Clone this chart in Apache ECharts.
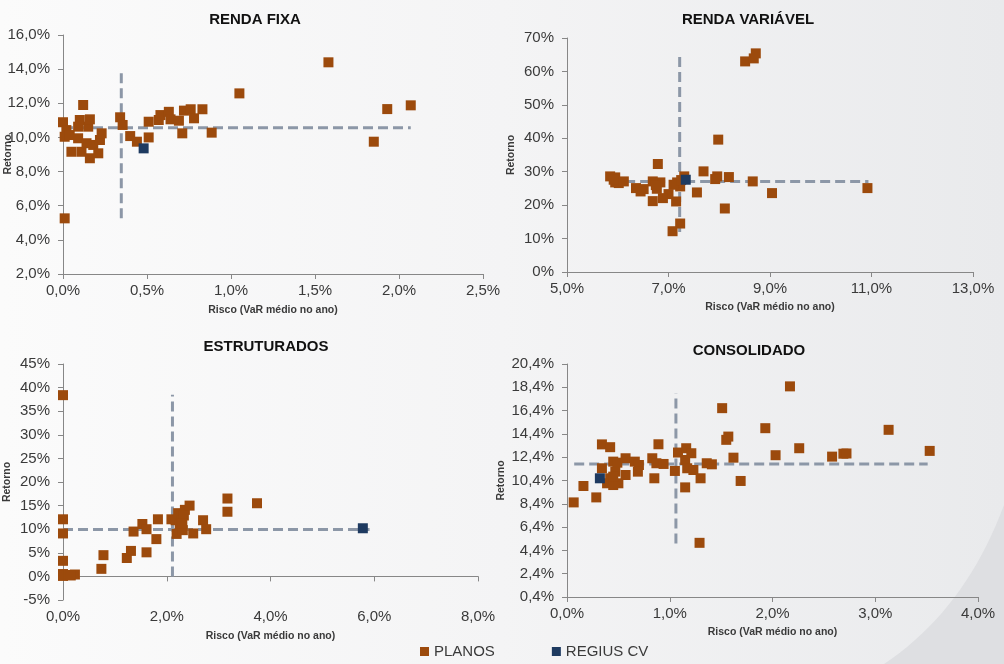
<!DOCTYPE html>
<html>
<head>
<meta charset="utf-8">
<script src="https://cdn.jsdelivr.net/npm/echarts@6/dist/echarts.min.js"></script>
<style>
html,body{margin:0;padding:0;background:#f5f5f6;}
#c{width:1004px;height:664px;}
</style>
</head>
<body>
<div id="c"></div>
<script>
// ---------- DATA ----------
const panelTitles = ['RENDA FIXA', 'RENDA VARIÁVEL', 'ESTRUTURADOS', 'CONSOLIDADO'];
const seriesNames = ['PLANOS', 'REGIUS CV'];
const xAxisTitle = 'Risco (VaR médio no ano)';
const yAxisTitle = 'Retorno';

// RENDA FIXA  [risco %, retorno %]
const rfPlanos = [[0.00,10.89],[0.02,10.43],[0.01,10.04],[0.04,10.14],[0.05,9.16],[0.09,10.63],[0.10,11.02],[0.09,9.95],[0.11,9.16],[0.12,11.90],[0.14,9.66],[0.15,10.63],[0.16,11.06],[0.16,8.78],[0.18,9.56],[0.21,9.07],[0.22,9.85],[0.23,10.24],[0.34,11.18],[0.355,10.73],[0.40,10.08],[0.44,9.75],[0.51,10.92],[0.51,10.00],[0.57,11.02],[0.58,11.31],[0.63,11.50],[0.64,11.06],[0.69,10.98],[0.71,10.24],[0.72,11.57],[0.76,11.65],[0.78,11.12],[0.83,11.65],[0.885,10.28],[1.05,12.58],[1.58,14.40],[1.85,9.75],[1.93,11.66],[2.07,11.88],[0.01,5.26]];
const rfRegius = [[0.48,9.36]];
const rfAvgH = [[0,10.57],[2.07,10.57]];
const rfAvgV = [[0.347,5.26],[0.347,14.05]];
const rfXTicks = [0,0.5,1,1.5,2,2.5];
const rfYTicks = [2,4,6,8,10,12,14,16];

// RENDA VARIÁVEL
const rvPlanos = [[8.51,63.0],[8.68,63.9],[8.72,65.4],[7.98,39.6],[6.79,32.3],[7.69,30.1],[7.96,28.6],[7.92,27.8],[8.19,28.4],[8.66,27.1],[9.04,23.6],[10.92,25.1],[8.11,19.0],[7.56,23.8],[7.31,28.6],[7.23,25.6],[7.17,26.8],[7.10,26.1],[7.15,21.1],[7.08,12.2],[7.23,14.5],[7.00,23.3],[6.89,22.1],[6.77,24.9],[6.84,26.8],[6.69,27.1],[6.69,21.2],[6.51,24.8],[6.45,24.1],[6.36,25.1],[5.85,28.6],[5.95,28.3],[5.95,26.8],[6.02,26.6],[6.12,27.1],[5.92,27.6],[6.75,26.0],[7.25,27.5]];
const rvRegius = [[7.34,27.6]];
const rvAvgH = [[5.85,27.1],[10.94,27.1]];
const rvAvgV = [[7.22,12.0],[7.22,65.7]];
const rvXTicks = [5,7,9,11,13];
const rvYTicks = [0,10,20,30,40,50,60,70];

// ESTRUTURADOS
const esPlanos = [[0,38.4],[0,12.1],[0,9.1],[0,3.3],[0,0.5],[0,0.1],[0.1,0.3],[0.23,0.4],[0.15,0.2],[0.74,1.6],[0.78,4.5],[1.23,3.9],[1.31,5.4],[1.36,9.5],[1.53,11.1],[1.61,10.0],[1.61,5.1],[1.80,7.9],[1.83,12.1],[2.09,12.1],[2.17,11.9],[2.19,9.0],[2.22,13.4],[2.25,10.9],[2.28,11.9],[2.31,9.8],[2.35,14.1],[2.44,15.0],[2.51,9.1],[2.70,11.9],[2.76,10.0],[3.17,16.5],[3.17,13.7],[3.74,15.5],[2.33,12.9],[2.30,11.2]];
const esRegius = [[5.78,10.2]];
const esAvgH = [[0,9.92],[5.91,9.92]];
const esAvgV = [[2.11,0],[2.11,38.5]];
const esXTicks = [0,2,4,6,8];
const esYTicks = [-5,0,5,10,15,20,25,30,35,40,45];

// CONSOLIDADO
const coPlanos = [[0.065,8.52],[0.16,9.93],[0.285,8.95],[0.34,11.45],[0.34,13.5],[0.42,13.26],[0.45,12.02],[0.42,10.59],[0.39,10.16],[0.45,10.01],[0.50,10.16],[0.47,11.16],[0.45,10.73],[0.49,11.93],[0.57,12.31],[0.57,10.87],[0.66,12.02],[0.70,11.73],[0.69,11.16],[0.83,12.31],[0.85,10.59],[0.89,13.51],[0.87,11.88],[0.94,11.82],[1.05,11.22],[1.08,12.8],[1.16,13.17],[1.21,12.74],[1.15,12.16],[1.17,11.45],[1.23,11.30],[1.30,10.59],[1.15,9.81],[1.29,5.05],[1.36,11.88],[1.41,11.79],[1.51,16.61],[1.55,13.89],[1.57,14.17],[1.62,12.36],[1.69,10.36],[1.93,14.89],[2.03,12.57],[2.17,18.48],[2.26,13.17],[2.58,12.45],[2.69,12.7],[2.72,12.72],[3.13,14.75],[3.53,12.94]];
const coRegius = [[0.32,10.59]];
const coAvgH = [[0.07,11.82],[3.51,11.82]];
const coAvgV = [[1.06,5.0],[1.06,17.9]];
const coXTicks = [0,1,2,3,4];
const coYTicks = [0.4,2.4,4.4,6.4,8.4,10.4,12.4,14.4,16.4,18.4,20.4];

// ---------- STYLE ----------
const ORANGE = '#9c4a0c';
const NAVY = '#1e3a60';
const DASH = '#8c97a7';
const AXIS = '#878787';
const TXT = '#3a3a3a';
const FONT = '"Liberation Sans", Arial, sans-serif';

const f1 = v => v.toFixed(1).replace('.', ',') + '%';
const f0 = v => Math.round(v) + '%';

const grids = [
  {left: 63, top: 35, width: 420, height: 239},
  {left: 567, top: 38, width: 406, height: 234},
  {left: 63, top: 364, width: 415, height: 236},
  {left: 567, top: 364, width: 411, height: 233}
].map(g => Object.assign({outerBoundsMode: 'none', containLabel: false}, g));

function xAx(gi, ticks, fmt, nameGap, extra) {
  return Object.assign({
    type: 'value', gridIndex: gi,
    min: ticks[0], max: ticks[ticks.length - 1],
    name: xAxisTitle, nameLocation: 'middle', nameGap: nameGap, nameMoveOverlap: false,
    nameTextStyle: {fontFamily: FONT, fontSize: 10.5, fontWeight: 'bold', color: TXT},
    axisLine: {show: true, onZero: false, lineStyle: {color: AXIS, width: 1}},
    axisTick: {show: true, length: 5, customValues: ticks, lineStyle: {color: AXIS}},
    axisLabel: {customValues: ticks, formatter: fmt, fontFamily: FONT, fontSize: 15, color: TXT, margin: 9},
    splitLine: {show: false}
  }, extra || {});
}
function yAx(gi, ticks, fmt, nameGap) {
  return {
    type: 'value', gridIndex: gi,
    min: ticks[0], max: ticks[ticks.length - 1],
    name: yAxisTitle, nameLocation: 'middle', nameGap: nameGap, nameMoveOverlap: false,
    nameTextStyle: {fontFamily: FONT, fontSize: 10.5, fontWeight: 'bold', color: TXT},
    axisLine: {show: true, onZero: false, lineStyle: {color: AXIS, width: 1}},
    axisTick: {show: true, length: 5, customValues: ticks, lineStyle: {color: AXIS}},
    axisLabel: {customValues: ticks, formatter: fmt, fontFamily: FONT, fontSize: 15, color: TXT, margin: 13},
    splitLine: {show: false}
  };
}

const xAxes = [
  xAx(0, rfXTicks, f1, 31),
  xAx(1, rvXTicks, f1, 30),
  xAx(2, esXTicks, f1, 31, {axisLine: {show: false, onZero: false}, axisTick: {show: false}}),
  xAx(3, coXTicks, f1, 30),
  // zero line of ESTRUTURADOS
  {type: 'value', gridIndex: 2, position: 'top', min: esXTicks[0], max: esXTicks[esXTicks.length - 1],
   axisLine: {show: true, onZero: true, lineStyle: {color: AXIS, width: 1}},
   axisTick: {show: true, inside: true, length: 5, customValues: esXTicks, lineStyle: {color: AXIS}},
   axisLabel: {show: false}, splitLine: {show: false}}
];
const yAxes = [
  yAx(0, rfYTicks, f1, 49),
  yAx(1, rvYTicks, f0, 50),
  yAx(2, esYTicks, f0, 50),
  yAx(3, coYTicks, f1, 60)
];

const panels = [
  [rfPlanos, rfRegius, rfAvgH, rfAvgV],
  [rvPlanos, rvRegius, rvAvgH, rvAvgV],
  [esPlanos, esRegius, esAvgH, esAvgV],
  [coPlanos, coRegius, coAvgH, coAvgV]
];
const series = [];
panels.forEach((p, i) => {
  [p[2], p[3]].forEach(ln => series.push({
    type: 'line', xAxisIndex: i, yAxisIndex: i, data: ln, symbol: 'none', silent: true,
    lineStyle: {color: DASH, width: 3, type: [10, 5]}, z: 1, animation: false
  }));
  series.push({name: seriesNames[0], type: 'scatter', xAxisIndex: i, yAxisIndex: i, data: p[0],
    symbol: 'rect', symbolSize: 10, itemStyle: {color: ORANGE, opacity: 1}, z: 2, animation: false});
  series.push({name: seriesNames[1], type: 'scatter', xAxisIndex: i, yAxisIndex: i, data: p[1],
    symbol: 'rect', symbolSize: 10, itemStyle: {color: NAVY, opacity: 1}, z: 3, animation: false});
});

const titlePos = [[255, 12], [748, 12], [266, 339], [749, 343]];
const titles = panelTitles.map((t, i) => ({
  text: t, left: titlePos[i][0], top: titlePos[i][1], textAlign: 'center', padding: 0,
  textStyle: {fontFamily: FONT, fontSize: 15, fontWeight: 'bold', color: '#111'}
}));

// decorative swoosh in the bottom-right corner of the slide
const swoosh = [];
for (let k = 0; k <= 20; k++) {
  const t = k / 20;
  const x = (1 - t) * (1 - t) * 1004 + 2 * (1 - t) * t * 965 + t * t * 884;
  const y = (1 - t) * (1 - t) * 505 + 2 * (1 - t) * t * 610 + t * t * 664;
  swoosh.push([x, y]);
}
swoosh.push([1004, 664]);

const chart = echarts.init(document.getElementById('c'), null, {renderer: 'canvas'});
chart.setOption({
  animation: false,
  backgroundColor: {type: 'linear', x: 0, y: 0, x2: 1, y2: 0,
    colorStops: [{offset: 0, color: '#fbfbfb'}, {offset: 0.5, color: '#f4f4f5'}, {offset: 1, color: '#e9eaec'}]},
  graphic: [{
    type: 'polygon', z: -10, silent: true,
    shape: {points: swoosh},
    style: {fill: '#dedfe2'}
  }],
  title: titles,
  legend: {
    data: seriesNames.map(n => ({name: n, icon: 'rect', itemStyle: {opacity: 1}})),
    left: 420, top: 644, itemWidth: 9, itemHeight: 9, itemGap: 57, padding: 0,
    textStyle: {fontFamily: FONT, fontSize: 15, color: TXT}
  },
  grid: grids,
  xAxis: xAxes,
  yAxis: yAxes,
  series: series
});
</script>
</body>
</html>
